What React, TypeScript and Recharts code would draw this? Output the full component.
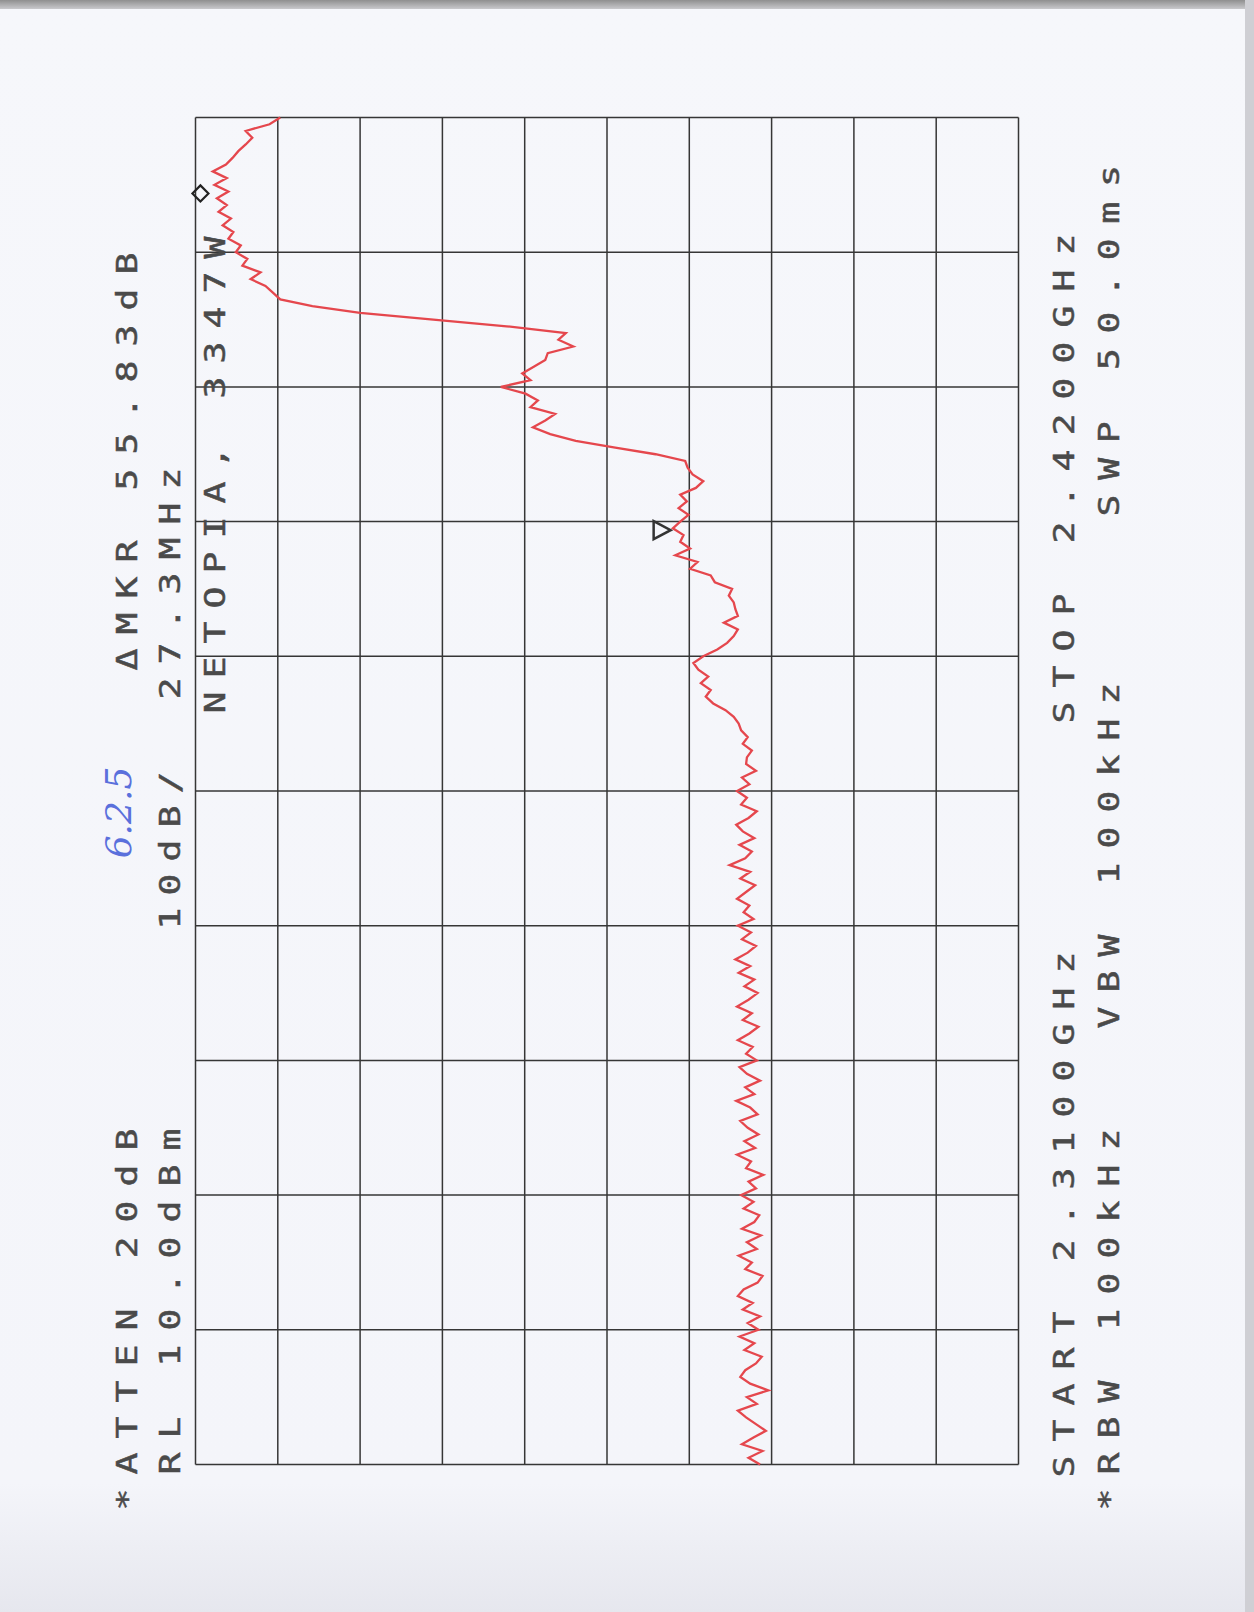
import React from 'react';
import { LineChart, Line, XAxis, YAxis, CartesianGrid, ReferenceDot } from 'recharts';

// sweep: 2.3100 - 2.4200 GHz, RL 10 dBm, 10 dB/div
const startMHz = 2310;
const stepMHz = 0.55;
const freqTicks = [2310, 2321, 2332, 2343, 2354, 2365, 2376, 2387, 2398, 2409, 2420];
const dbmTicks = [-90, -80, -70, -60, -50, -40, -30, -20, -10, 0, 10];

// noise floor, low end of the sweep
const floorDbm = [
  -58.6, -57.2, -58.9, -56.4, -57.8, -59.3, -58.1, -56.9, -55.9, -58.2,
  -57.0, -59.6, -57.4, -56.2, -56.8, -58.1, -58.8, -56.7, -57.9, -56.1,
  -58.4, -57.1, -58.6, -56.5, -57.7, -55.9, -56.6, -58.3, -58.9, -56.8,
  -57.6, -56.0, -58.2, -57.0, -58.7, -56.4, -57.9, -58.5, -56.6, -57.8,
  -56.3, -58.1, -57.2, -59.0, -56.9, -57.5, -55.8, -58.0, -56.7, -58.4,
  -57.1, -56.2, -58.3, -57.4, -55.7, -57.9, -56.8, -58.6, -57.0, -56.1,
  -58.2, -56.9, -57.7, -55.9, -57.3, -58.4, -56.5, -57.6, -55.8, -57.2,
  -58.3, -56.7, -57.9, -56.0, -57.4, -55.6, -57.1, -58.1, -56.4, -57.5,
  -55.9, -57.8, -56.6, -57.3, -55.8, -56.9, -58.0, -56.2, -57.4, -54.9,
  -56.8, -57.6, -56.1, -57.9, -56.5, -55.7, -57.2, -58.2, -56.3, -57.0,
  -55.8, -57.3, -56.4, -58.1, -56.9,
];

// lower skirt rising towards the band
const skirtDbm = [
  -57.0, -57.6, -56.5, -57.1, -56.3, -56.0, -55.4, -54.4, -52.9, -52.0,
  -52.6, -51.4, -52.3, -51.1, -50.5, -51.7, -53.4, -54.6, -55.4, -55.9,
  -54.2, -55.9, -55.6, -55.4, -54.8, -55.2, -53.1, -52.6, -50.1, -51.0,
  -48.3, -50.1, -48.9, -49.3, -48.0, -48.9, -49.9, -48.7, -49.7, -48.9,
  -50.8, -51.7, -50.4, -49.8, -49.5,
];

// shoulder plateau
const shoulderDbm = [
  -45.9, -41.0, -36.2, -33.1, -31.0, -32.5, -33.7, -30.7, -31.6, -30.1,
  -27.1, -30.7, -29.7, -31.1, -32.5, -32.8, -35.9, -34.1, -35.0, -27.8,
];

// in-band carrier up to the stop frequency
const carrierDbm = [
  -18.9, -10.0, -4.2, -0.3, 0.6, 1.5, 3.3, 2.1, 4.3, 3.7,
  5.1, 4.5, 6.0, 5.4, 6.7, 5.7, 7.2, 6.2, 7.4, 6.0,
  7.7, 6.2, 7.9, 6.3, 5.5, 4.8, 3.9, 3.1, 3.9, 1.0,
  -0.3,
];

const traceDbm = [...floorDbm, ...skirtDbm, ...shoulderDbm, ...carrierDbm];
const data = traceDbm.map((dbm, i) => ({ freq: startMHz + i * stepMHz, dbm }));

const refMarker = { freq: 2413.8, dbm: 9.4 };
const deltaMarker = { freq: 2386.3, dbm: -46.7 };

// chart is drawn upright then turned a quarter turn, like the scanned printout
const W = 1500;
const H = 1150;
const CX = 606.5;
const CY = 790.5;
const toU = (y: number) => W / 2 + (CY - y);
const toV = (x: number) => H / 2 + (x - CX);

const FONT = 28;
const SX = 1.3;
const ADV = 0.602 * FONT * SX;
const CAP = 0.73 * FONT;

const labels = [
  { text: '*ATTEN 20dB', x: 126, y: 1499, pitch: 36 },
  { text: '\u0394MKR 55.83dB', x: 126, y: 659, pitch: 36 },
  { text: 'RL 10.0dBm', x: 169, y: 1463, pitch: 36 },
  { text: '10dB/', x: 169, y: 918, pitch: 34 },
  { text: '27.3MHz', x: 169, y: 688, pitch: 35 },
  { text: 'NETOPIA, 3347W', x: 214, y: 702, pitch: 35 },
  { text: 'START 2.3100GHz', x: 1063, y: 1466, pitch: 36 },
  { text: 'STOP 2.4200GHz', x: 1063, y: 712, pitch: 36 },
  { text: '*RBW 100kHz', x: 1108, y: 1499, pitch: 36 },
  { text: 'VBW 100kHz', x: 1108, y: 1017, pitch: 36 },
  { text: 'SWP 50.0ms', x: 1108, y: 505, pitch: 36.6 },
];

const Diamond = (p: any) => (
  <path
    d={`M${p.cx - 8} ${p.cy} L${p.cx} ${p.cy - 8} L${p.cx + 8} ${p.cy} L${p.cx} ${p.cy + 8} Z`}
    fill="none"
    stroke="#222"
    strokeWidth={2.2}
  />
);

const Triangle = (p: any) => (
  <path
    d={`M${p.cx - 9} ${p.cy - 8.5} L${p.cx + 9} ${p.cy - 8.5} L${p.cx} ${p.cy + 8.5} Z`}
    fill="none"
    stroke="#333"
    strokeWidth={2.5}
  />
);

export default function App() {
  return (
    <div
      style={{
        position: 'absolute',
        left: 0,
        top: 0,
        width: 1254,
        height: 1612,
        overflow: 'hidden',
        background: 'linear-gradient(#f6f7fb, #f4f5fa 92%, #e6e7ee)',
      }}
    >
      <div style={{ position: 'absolute', left: 0, top: 0, width: 1254, height: 9, background: 'linear-gradient(#8f8f8f, #c9c9cc)' }} />
      <div style={{ position: 'absolute', left: 1245, top: 0, width: 9, height: 1612, background: '#cfcfd4' }} />
      <div
        style={{
          position: 'absolute',
          left: CX - W / 2,
          top: CY - H / 2,
          width: W,
          height: H,
          transform: 'rotate(-90deg)',
          transformOrigin: 'center',
        }}
      >
        <LineChart
          width={W}
          height={H}
          data={data}
          margin={{ top: 163.5, bottom: 163.5, left: 76.5, right: 76.5 }}
        >
          <CartesianGrid stroke="#363636" strokeWidth={1.5} />
          <XAxis
            dataKey="freq"
            type="number"
            domain={[startMHz, 2420]}
            ticks={freqTicks}
            hide
          />
          <YAxis type="number" domain={[-90, 10]} ticks={dbmTicks} hide />
          <Line
            type="linear"
            dataKey="dbm"
            stroke="#e5474d"
            strokeWidth={2.3}
            dot={false}
            isAnimationActive={false}
          />
          <ReferenceDot x={refMarker.freq} y={refMarker.dbm} r={8} shape={Diamond} />
          <ReferenceDot x={deltaMarker.freq} y={deltaMarker.dbm} r={9} shape={Triangle} />
        </LineChart>
        <svg
          width={W}
          height={H}
          style={{ position: 'absolute', left: 0, top: 0, pointerEvents: 'none' }}
        >
          {labels.map((l) => (
            <text
              key={l.text}
              transform={`translate(${toU(l.y) - ADV / 2} ${toV(l.x) + CAP / 2}) scale(${SX} 1)`}
              fontFamily="DejaVu Sans Mono"
              fontSize={FONT}
              fill="#4a4a4a"
              stroke="#4a4a4a"
              strokeWidth={0.5}
              style={{ letterSpacing: (l.pitch - ADV) / SX }}
            >
              {l.text}
            </text>
          ))}
          <text
            x={toU(812)}
            y={toV(118) + 12}
            textAnchor="middle"
            fontFamily="DejaVu Serif"
            fontStyle="italic"
            fontSize={36}
            fill="#5a70dc"
          >
            6.2.5
          </text>
        </svg>
      </div>
    </div>
  );
}
